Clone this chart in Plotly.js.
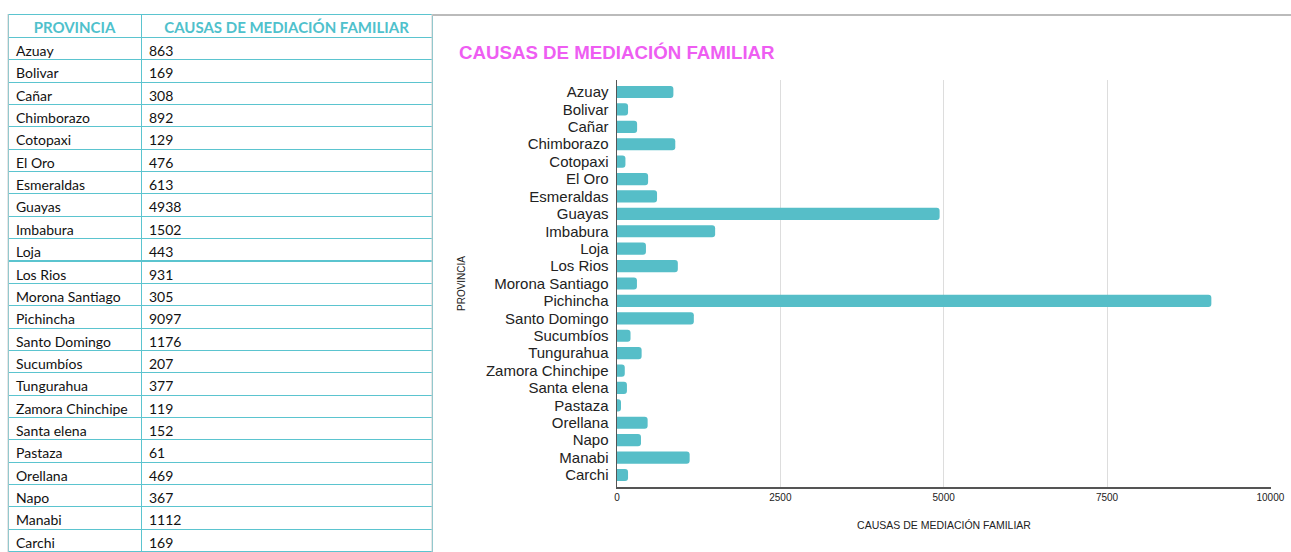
<!DOCTYPE html>
<html>
<head>
<meta charset="utf-8">
<script src="https://cdn.plot.ly/plotly-3.0.1.min.js"></script>
<style>
html,body{margin:0;padding:0;background:#fff;}
#chart{width:1291px;height:552px;}
</style>
</head>
<body>
<div id="chart"></div>
<script>
const provincias = ["Azuay","Bolivar","Cañar","Chimborazo","Cotopaxi","El Oro","Esmeraldas","Guayas","Imbabura","Loja","Los Rios","Morona Santiago","Pichincha","Santo Domingo","Sucumbíos","Tungurahua","Zamora Chinchipe","Santa elena","Pastaza","Orellana","Napo","Manabi","Carchi"];
const causas = [863,169,308,892,129,476,613,4938,1502,443,931,305,9097,1176,207,377,119,152,61,469,367,1112,169];
const headers = ["PROVINCIA","CAUSAS DE MEDIACIÓN FAMILIAR"];
const xTicks = [0,2500,5000,7500,10000];

const W = 1291, H = 552;
const teal = "#5BC4CF";
const sans = "'Liberation Sans', Arial, sans-serif";

const table = {
  type: "table",
  domain: {x: [8/W, 432/W], y: [0, 1 - 14/H]},
  columnwidth: [133, 291],
  header: {
    values: headers,
    align: "center",
    height: 23.5,
    fill: {color: "#ffffff"},
    line: {color: teal, width: 1},
    font: {family: "Lato, 'Open Sans', sans-serif", size: 15, color: "#4FC1CC", weight: "bold"}
  },
  cells: {
    values: [provincias, causas.map(String)],
    align: "left",
    height: 22.35,
    fill: {color: "#ffffff"},
    line: {color: teal, width: 1},
    font: {family: "Lato, 'Open Sans', sans-serif", size: 14, color: "#111111"}
  }
};

const bars = {
  type: "bar",
  orientation: "h",
  x: causas,
  y: provincias,
  xaxis: "x",
  yaxis: "y",
  width: 0.7,
  marker: {color: "#56BEC8", cornerradius: 3, line: {width: 0}},
  hoverinfo: "x+y"
};

const layout = {
  width: W, height: H,
  margin: {l: 0, r: 0, t: 0, b: 0},
  paper_bgcolor: "#ffffff",
  plot_bgcolor: "#ffffff",
  showlegend: false,
  xaxis: {
    domain: [617/W, 1271/W],
    range: [0, 10010],
    tickvals: xTicks,
    ticktext: xTicks.map(String),
    showgrid: true,
    gridcolor: "#dddddd",
    zeroline: false,
    showline: true,
    linecolor: "#555555",
    linewidth: 1.5,
    ticks: "",
    tickfont: {family: sans, size: 10, color: "#222222"},
    title: {text: "CAUSAS DE MEDIACIÓN FAMILIAR", font: {family: sans, size: 10.5, color: "#222222"}, standoff: 20}
  },
  yaxis: {
    domain: [1 - 487/H, 1 - 80/H],
    type: "category",
    range: [22.69, -0.69],
    tickmode: "array",
    tickvals: provincias,
    ticktext: provincias,
    showgrid: false,
    zeroline: false,
    showline: true,
    linecolor: "#555555",
    linewidth: 1.5,
    ticks: "",
    ticklabelstandoff: 4,
    tickfont: {family: sans, size: 15, color: "#222222"},
    title: {text: "PROVINCIA", font: {family: sans, size: 10, color: "#222222"}, standoff: 18}
  },
  title: {
    text: "<b>CAUSAS DE MEDIACIÓN FAMILIAR</b>",
    font: {family: sans, size: 18.7, color: "#EE5DF2"},
    x: 459/W, xanchor: "left",
    y: 1 - 52/H, yanchor: "middle"
  },
  shapes: [
    {type: "line", xref: "paper", yref: "paper", x0: 432/W, x1: 1, y0: 1 - 15/H, y1: 1 - 15/H, line: {color: "#bbbbbb", width: 2}},
    {type: "line", xref: "paper", yref: "paper", x0: 8/W, x1: 8/W, y0: 0, y1: 1 - 14/H, line: {color: "#cccccc", width: 1}},
    {type: "line", xref: "paper", yref: "paper", x0: 432/W, x1: 432/W, y0: 0, y1: 1 - 14/H, line: {color: "#cccccc", width: 1}}
  ]
};

Plotly.newPlot("chart", [table, bars], layout, {displayModeBar: false, staticPlot: true});
</script>
</body>
</html>
